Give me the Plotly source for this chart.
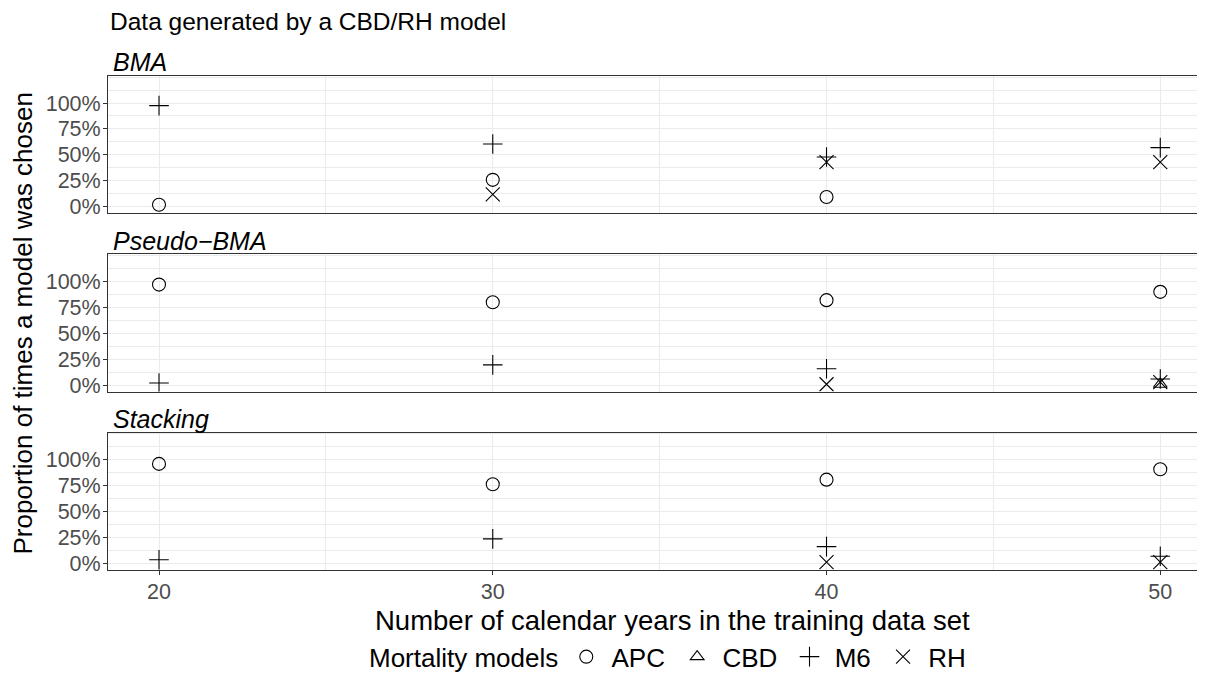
import plotly.graph_objects as go
from plotly.subplots import make_subplots

years = [20, 30, 40, 50]
methods = ["BMA", "Pseudo\u2212BMA", "Stacking"]
models = ["APC", "CBD", "M6", "RH"]

# proportions (None = model never chosen, not drawn)
bma_apc = [0.02, 0.26, 0.095, None]
bma_cbd = [None, None, None, None]
bma_m6 = [0.975, 0.605, 0.48, 0.57]
bma_rh = [None, 0.12, 0.43, 0.43]

pbma_apc = [0.97, 0.80, 0.82, 0.90]
pbma_cbd = [None, None, None, 0.01]
pbma_m6 = [0.022, 0.197, 0.16, 0.06]
pbma_rh = [None, None, 0.01, 0.03]

stk_apc = [0.962, 0.766, 0.81, 0.91]
stk_cbd = [None, None, None, None]
stk_m6 = [0.038, 0.24, 0.165, 0.073]
stk_rh = [None, None, 0.016, 0.016]

tick_vals = [0, 0.25, 0.5, 0.75, 1.0]
tick_text = ["0%", "25%", "50%", "75%", "100%"]

data = {
    "BMA": {"APC": bma_apc, "CBD": bma_cbd, "M6": bma_m6, "RH": bma_rh},
    "Pseudo\u2212BMA": {"APC": pbma_apc, "CBD": pbma_cbd, "M6": pbma_m6, "RH": pbma_rh},
    "Stacking": {"APC": stk_apc, "CBD": stk_cbd, "M6": stk_m6, "RH": stk_rh},
}

symbols = {"APC": "circle-open", "CBD": "triangle-up-open", "M6": "cross-thin-open", "RH": "x-thin-open"}
sizes = {"APC": 13, "CBD": 12, "M6": 14, "RH": 14}

FONT = "Liberation Sans, Arial, Helvetica, sans-serif"
OFF = 8  # page body margin
W, H = 1197, 674
L, R, T, B = 100, 2, 68, 105
PH = H - T - B
PW = W - L - R

def py2paper(py):  # py in page pixels
    return (H - B - (py - OFF)) / PH

def px2paper(px):  # px in page pixels
    return (px - OFF - L) / PW

fig = make_subplots(rows=3, cols=1, shared_xaxes=True, vertical_spacing=0.08)

domains = [(py2paper(215), 1.0), (py2paper(396), py2paper(257)), (0.0, py2paper(438))]

shown = set()
for m in models:
    for i, meth in enumerate(methods):
        ys = data[meth][m]
        xs = [x for x, y in zip(years, ys) if y is not None]
        yv = [y for y in ys if y is not None]
        if not xs:
            continue
        fig.add_trace(go.Scatter(
            x=xs, y=yv, mode="markers", name="\u2009" + m + " ", legendgroup=m,
            showlegend=(m not in shown),
            marker=dict(symbol=symbols[m], size=sizes[m], color="black",
                        line=dict(color="black", width=1.1)),
        ), row=i + 1, col=1)
        shown.add(m)

for i in range(3):
    yax = "yaxis" if i == 0 else f"yaxis{i+1}"
    xax = "xaxis" if i == 0 else f"xaxis{i+1}"
    fig.layout[yax].update(
        domain=list(domains[i]), range=[-0.06, 1.26],
        tickvals=tick_vals, ticktext=tick_text,
        showgrid=True, gridcolor="#EBEBEB", gridwidth=1,
        minor=dict(dtick=0.125, tick0=0, showgrid=True, gridcolor="#EBEBEB", gridwidth=0.5),
        zeroline=False, showline=True, linecolor="#333333", linewidth=1, mirror=True,
        ticks="outside", ticklen=4, tickcolor="#333333", ticklabelstandoff=-2,
        tickfont=dict(size=21.5, color="#4D4D4D", family=FONT),
    )
    fig.layout[xax].update(
        range=[18.472, 51.28], tickvals=[20, 30, 40, 50],
        showticklabels=(i == 2),
        showgrid=True, gridcolor="#EBEBEB", gridwidth=1,
        minor=dict(dtick=5, tick0=0, showgrid=True, gridcolor="#EBEBEB", gridwidth=0.5),
        zeroline=False, showline=True, linecolor="#333333", linewidth=1, mirror=True,
        ticks="outside" if i == 2 else "", ticklen=4, tickcolor="#333333", ticklabelstandoff=-2,
        tickfont=dict(size=21.5, color="#4D4D4D", family=FONT),
    )

annotations = [
    dict(text="Data generated by a CBD/RH model", x=px2paper(108), y=py2paper(21),
         xref="paper", yref="paper", xanchor="left", yanchor="middle", showarrow=False,
         font=dict(size=24.5, color="black", family=FONT)),
    dict(text="Proportion of times a model was chosen", x=px2paper(23), y=py2paper(327),
         xref="paper", yref="paper", xanchor="center", yanchor="middle", textangle=-90,
         showarrow=False, font=dict(size=26, color="black", family=FONT)),
    dict(text="Number of calendar years in the training data set", x=px2paper(672), y=py2paper(628),
         xref="paper", yref="paper", xanchor="center", yanchor="middle", showarrow=False,
         font=dict(size=27.5, color="black", family=FONT)),
]
strip_y = [62, 243, 424]
for meth, sy in zip(methods, strip_y):
    annotations.append(dict(text=f"<i>{meth}</i>", x=px2paper(111), y=py2paper(sy),
                            xref="paper", yref="paper", xanchor="left", yanchor="middle",
                            showarrow=False, font=dict(size=25, color="black", family=FONT)))

fig.update_layout(
    width=W, height=H,
    margin=dict(l=L, r=R, t=T, b=B),
    paper_bgcolor="white", plot_bgcolor="white",
    font=dict(family=FONT, color="black"),
    annotations=annotations,
    showlegend=True,
    legend=dict(orientation="h", x=px2paper(673), xanchor="center", y=py2paper(665), yanchor="middle",
                title=dict(text="Mortality models", font=dict(size=26, family=FONT, color="black")),
                font=dict(size=26, family=FONT, color="black"),
                bgcolor="rgba(0,0,0,0)", itemsizing="trace", tracegroupgap=0),
)

fig.write_html("out.html")
